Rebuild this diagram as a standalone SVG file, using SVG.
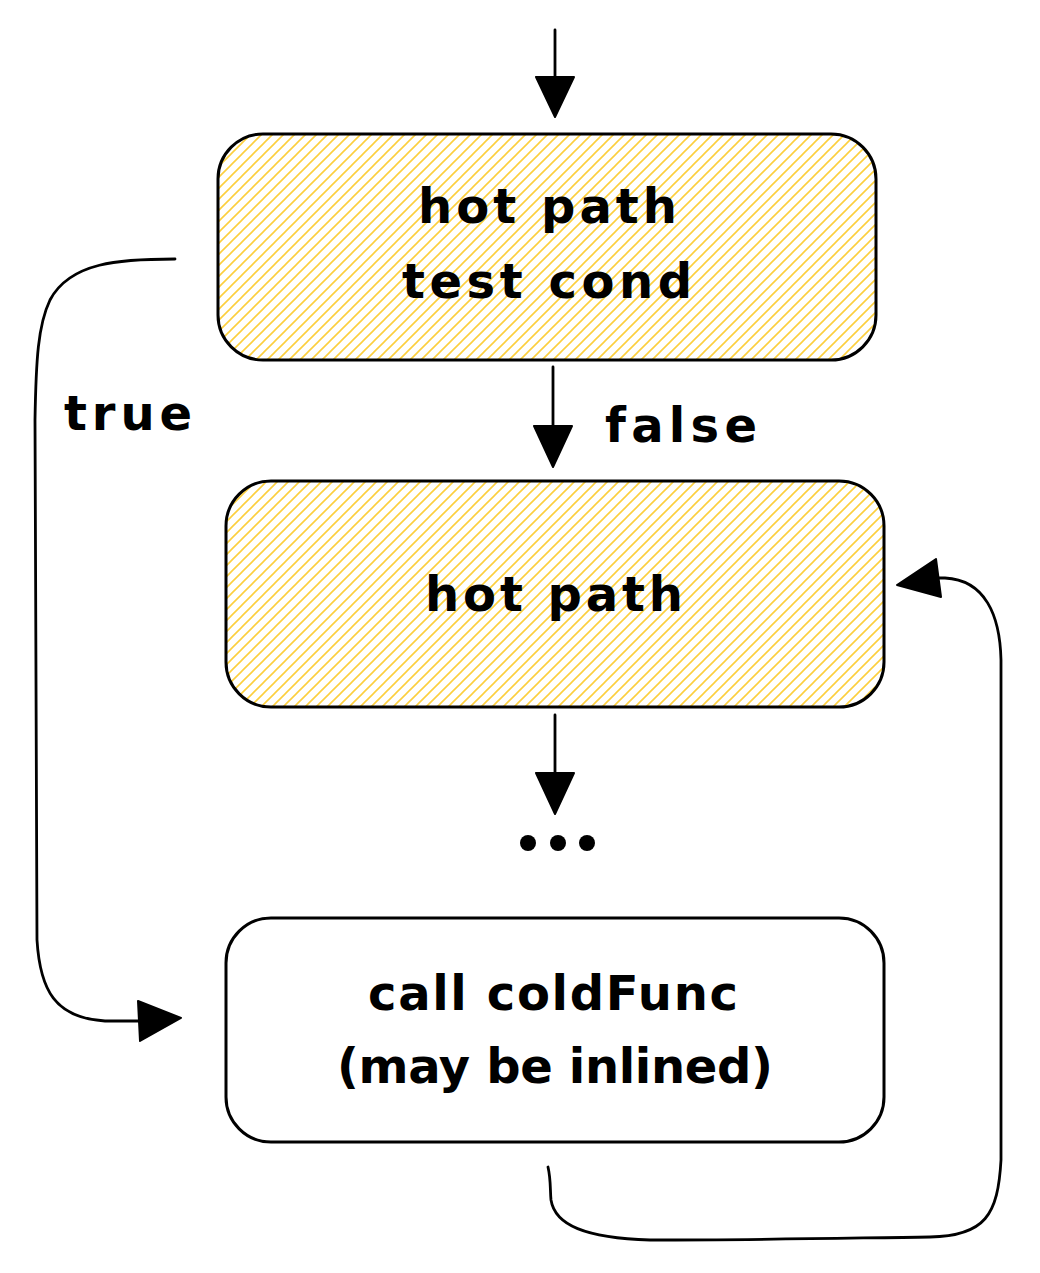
<svg xmlns="http://www.w3.org/2000/svg" width="1040" height="1273" viewBox="0 0 1040 1273">
  <defs>
    <pattern id="hatch" patternUnits="userSpaceOnUse" width="11" height="11">
      <path d="M-1 12 L12 -1 M-6 6 L6 -6 M5 17 L17 5" stroke="#fccf3e" stroke-width="1.6" fill="none"/>
    </pattern>
    <style>
      .box { stroke: #000; stroke-width: 3; }
      .hot { fill: url(#hatch); }
      .cold { fill: #fff; }
      .lbl { font-family: "DejaVu Sans", "Liberation Sans", sans-serif; font-size: 48px; font-weight: bold; fill: #000; }
      .edge { fill: none; stroke: #000; stroke-width: 2.8; stroke-linecap: round; }
      .head { fill: #000; stroke: #000; stroke-width: 2; stroke-linejoin: round; }
    </style>
  </defs>
  <rect width="1040" height="1273" fill="#fff"/>

  <g id="connectors">
    <path class="edge" d="M555 30 L555 78"/>
    <polygon class="head" points="536,77 574,77 555,117"/>
    <path class="edge" d="M553 367 L553 427"/>
    <polygon class="head" points="534,426 572,426 553,467"/>
    <path class="edge" d="M555 715 L555 774"/>
    <polygon class="head" points="536,773 574,773 555,814"/>
    <path class="edge" d="M175 259 C120 259 70 262 50 300 C38 325 36 360 35 420 L37 940 C40 990 55 1018 105 1021 L140 1021"/>
    <polygon class="head" points="138,1001 181,1018 140,1041"/>
    <path class="edge" d="M548 1167 C551 1180 550 1190 551 1200 C555 1225 585 1238 650 1240 C760 1240 850 1238 930 1237 C985 1236 998 1215 1001 1160 L1001 660 C1000 615 985 580 945 578 L935 578"/>
    <polygon class="head" points="936,559 897,585 941,597"/>
  </g>

  <g id="node-hot1">
    <rect class="box hot" x="218" y="134" width="658" height="226" rx="45"/>
    <text class="lbl" x="418" y="223" textLength="259">hot path</text>
    <text class="lbl" x="402" y="298" textLength="290">test cond</text>
  </g>

  <g id="node-hot2">
    <rect class="box hot" x="226" y="481" width="658" height="226" rx="45"/>
    <text class="lbl" x="425" y="611" textLength="258">hot path</text>
  </g>

  <g id="node-cold">
    <rect class="box cold" x="226" y="918" width="658" height="224" rx="45"/>
    <text class="lbl" x="368" y="1010" textLength="370">call coldFunc</text>
    <text class="lbl" x="337" y="1083" textLength="436">(may be inlined)</text>
  </g>

  <g id="labels">
    <text class="lbl" x="64" y="430" textLength="128">true</text>
    <text class="lbl" x="605" y="442" textLength="152">false</text>
    <circle cx="528" cy="843" r="8"/>
    <circle cx="558" cy="843" r="8"/>
    <circle cx="587" cy="843" r="8"/>
  </g>
</svg>
